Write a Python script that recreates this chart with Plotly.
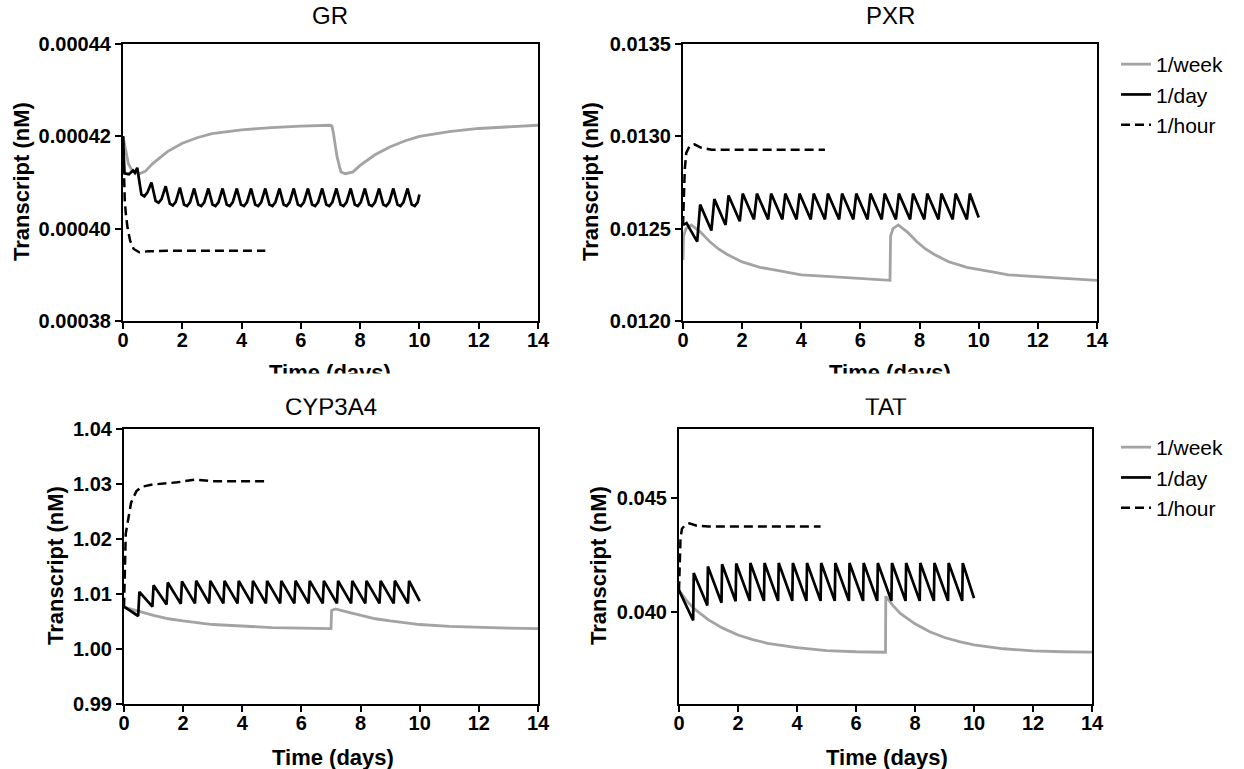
import plotly.graph_objects as go

# ---------------- data ----------------
# GR
gr_week_t = [0, 0.06, 0.18, 0.30, 0.55, 0.75, 1.0, 1.5, 2.0, 2.5, 3.0, 4.0, 5.0, 6.0, 7.0,
             7.05, 7.1, 7.22, 7.35, 7.5, 7.76, 8.0, 8.5, 9.0, 9.5, 10.0, 11.0, 12.0, 13.0, 14.0]
gr_week_y = [0.000420, 0.0004178, 0.0004141, 0.0004126, 0.0004119, 0.0004124, 0.0004141, 0.0004167,
             0.0004185, 0.0004197, 0.0004206, 0.0004214, 0.0004219, 0.0004222, 0.0004224,
             0.0004222, 0.0004206, 0.0004156, 0.0004123, 0.0004119, 0.0004123, 0.0004137, 0.0004160,
             0.0004177, 0.0004190, 0.0004200, 0.0004210, 0.0004217, 0.0004221, 0.0004224]
gr_day_t = [0, 0.05, 0.20, 0.34, 0.40,
            0.48, 0.62, 0.72, 0.82,
            0.96, 1.10, 1.20, 1.30,
            1.44, 1.58, 1.68, 1.78,
            1.92, 2.06, 2.16, 2.26,
            2.40, 2.54, 2.64, 2.74,
            2.88, 3.02, 3.12, 3.22,
            3.36, 3.50, 3.60, 3.70,
            3.84, 3.98, 4.08, 4.18,
            4.32, 4.46, 4.56, 4.66,
            4.80, 4.94, 5.04, 5.14,
            5.28, 5.42, 5.52, 5.62,
            5.76, 5.90, 6.00, 6.10,
            6.24, 6.38, 6.48, 6.58,
            6.72, 6.86, 6.96, 7.06,
            7.20, 7.34, 7.44, 7.54,
            7.68, 7.82, 7.92, 8.02,
            8.16, 8.30, 8.40, 8.50,
            8.64, 8.78, 8.88, 8.98,
            9.12, 9.26, 9.36, 9.46,
            9.60, 9.74, 9.84, 9.94, 10.00]
gr_day_y = [0.000420, 0.0004120, 0.0004118, 0.0004126, 0.0004121,
            0.0004132, 0.0004074, 0.0004070, 0.0004078,
            0.0004100, 0.0004060, 0.0004056, 0.0004064,
            0.0004092, 0.0004054, 0.0004050, 0.0004058,
            0.0004089, 0.0004052, 0.0004049, 0.0004057,
            0.0004087, 0.0004052, 0.0004049, 0.0004057,
            0.0004087, 0.0004052, 0.0004049, 0.0004057,
            0.0004087, 0.0004052, 0.0004049, 0.0004057,
            0.0004087, 0.0004052, 0.0004049, 0.0004057,
            0.0004087, 0.0004052, 0.0004049, 0.0004057,
            0.0004087, 0.0004052, 0.0004049, 0.0004057,
            0.0004087, 0.0004052, 0.0004049, 0.0004057,
            0.0004087, 0.0004052, 0.0004049, 0.0004057,
            0.0004087, 0.0004052, 0.0004049, 0.0004057,
            0.0004087, 0.0004052, 0.0004049, 0.0004057,
            0.0004087, 0.0004052, 0.0004049, 0.0004057,
            0.0004087, 0.0004052, 0.0004049, 0.0004057,
            0.0004087, 0.0004052, 0.0004049, 0.0004057,
            0.0004087, 0.0004052, 0.0004049, 0.0004057,
            0.0004087, 0.0004052, 0.0004049, 0.0004057,
            0.0004087, 0.0004052, 0.0004049, 0.0004057, 0.0004074]
gr_hour_t = [0, 0.03, 0.06, 0.10, 0.15, 0.24, 0.36, 0.55, 0.85, 1.5, 4.8]
gr_hour_y = [0.000420, 0.000412, 0.000406, 0.000403, 0.0004003, 0.0003974, 0.0003956,
             0.0003949, 0.0003951, 0.0003952, 0.0003952]

# PXR
pxr_week_t = [0, 0.02, 0.1, 0.28, 0.6, 0.9, 1.2, 1.5, 2.0, 2.6, 3.0, 3.5, 4.0, 5.0, 6.0, 7.0,
              7.02, 7.1, 7.28, 7.6, 7.9, 8.2, 8.5, 9.0, 9.6, 10.0, 10.5, 11.0, 12.0, 13.0, 14.0]
pxr_week_y = [0.01233, 0.01246, 0.01250, 0.01252, 0.01248, 0.01243, 0.01239, 0.01236, 0.01232, 0.01229,
              0.01228, 0.012265, 0.01225, 0.01224, 0.01223, 0.01222,
              0.01246, 0.01250, 0.01252, 0.01248, 0.01243, 0.01239, 0.01236, 0.01232, 0.01229,
              0.01228, 0.012265, 0.01225, 0.01224, 0.01223, 0.01222]
pxr_day_t = [0, 0.12, 0.30,
             0.48, 0.58, 0.96, 1.06, 1.44, 1.54, 1.92, 2.02, 2.40, 2.50, 2.88, 2.98,
             3.36, 3.46, 3.84, 3.94, 4.32, 4.42, 4.80, 4.90, 5.28, 5.38, 5.76, 5.86,
             6.24, 6.34, 6.72, 6.82, 7.20, 7.30, 7.68, 7.78, 8.16, 8.26, 8.64, 8.74,
             9.12, 9.22, 9.60, 9.70, 10.00]
pxr_day_y = [0.01252, 0.01253, 0.01248,
             0.01243, 0.01263, 0.01249, 0.01266, 0.01252, 0.01268, 0.01254, 0.01269,
             0.01255, 0.01269, 0.01255, 0.01269, 0.01255, 0.01269, 0.01255, 0.01269,
             0.01255, 0.01269, 0.01255, 0.01269, 0.01255, 0.01269, 0.01255, 0.01269,
             0.01255, 0.01269, 0.01255, 0.01269, 0.01255, 0.01269, 0.01255, 0.01269,
             0.01255, 0.01269, 0.01255, 0.01269, 0.01255, 0.01269, 0.01255, 0.01269,
             0.01256]
pxr_hour_t = [0, 0.03, 0.06, 0.11, 0.22, 0.39, 0.62, 0.96, 4.8]
pxr_hour_y = [0.01252, 0.01270, 0.01282, 0.01291, 0.012947, 0.012956, 0.012938, 0.012928, 0.012928]

# CYP3A4
cyp_week_t = [0, 0.5, 1, 1.5, 2, 3, 4, 5, 6, 7.0, 7.02, 7.15, 7.5, 8, 8.5, 9, 10, 11, 12, 13, 14]
cyp_week_y = [1.0076, 1.0068, 1.0061, 1.0055, 1.0051, 1.00445, 1.00412, 1.0039, 1.00378, 1.0037,
              1.0070, 1.00728, 1.0068, 1.0061, 1.0055, 1.0051, 1.00445, 1.00412, 1.0039, 1.00378, 1.0037]
cyp_day_t = [0, 0.24,
             0.48, 0.52, 0.96, 1.00, 1.44, 1.48, 1.92, 1.96, 2.40, 2.44, 2.88, 2.92,
             3.36, 3.40, 3.84, 3.88, 4.32, 4.36, 4.80, 4.84, 5.28, 5.32, 5.76, 5.80,
             6.24, 6.28, 6.72, 6.76, 7.20, 7.24, 7.68, 7.72, 8.16, 8.20, 8.64, 8.68,
             9.12, 9.16, 9.60, 9.64, 10.00]
cyp_day_y = [1.0077, 1.0068,
             1.0060, 1.0104, 1.0077, 1.0116, 1.0081, 1.0121, 1.0082, 1.0123,
             1.0083, 1.0124, 1.0083, 1.0124, 1.0083, 1.0124, 1.0083, 1.0124,
             1.0083, 1.0124, 1.0083, 1.0124, 1.0083, 1.0124, 1.0083, 1.0124,
             1.0083, 1.0124, 1.0083, 1.0124, 1.0083, 1.0124, 1.0083, 1.0124,
             1.0083, 1.0124, 1.0083, 1.0124, 1.0083, 1.0124, 1.0083, 1.0124,
             1.0087]
cyp_hour_t = [0, 0.03, 0.06, 0.12, 0.24, 0.42, 0.6, 0.97, 1.8, 2.4, 3.0, 4.8]
cyp_hour_y = [1.0077, 1.0150, 1.0210, 1.0229, 1.0266, 1.0287, 1.0295, 1.0299, 1.0303, 1.0308, 1.0305, 1.0305]

# TAT
tat_week_t = [0, 0.25, 0.5, 1, 1.5, 2, 2.5, 3, 4, 5, 6, 7.0,
              7.01, 7.25, 7.5, 8, 8.5, 9, 9.5, 10, 11, 12, 13, 14]
tat_week_y = [0.04096, 0.04052, 0.04017, 0.03967, 0.03930, 0.03901, 0.03881, 0.03865, 0.03846, 0.03833,
              0.03828, 0.03826,
              0.04070, 0.04030, 0.03995, 0.03950, 0.03915, 0.03890, 0.03872, 0.03858, 0.03841,
              0.03832, 0.03828, 0.03826]
tat_day_t = [0, 0.24,
             0.48, 0.50, 0.96, 0.98, 1.44, 1.46, 1.92, 1.94, 2.40, 2.42, 2.88, 2.90,
             3.36, 3.38, 3.84, 3.86, 4.32, 4.34, 4.80, 4.82, 5.28, 5.30, 5.76, 5.78,
             6.24, 6.26, 6.72, 6.74, 7.20, 7.22, 7.68, 7.70, 8.16, 8.18, 8.64, 8.66,
             9.12, 9.14, 9.60, 9.62, 10.00]
tat_day_y = [0.04096, 0.04030,
             0.03965, 0.04172, 0.04030, 0.04200, 0.04042, 0.04210, 0.04048, 0.04213,
             0.04050, 0.04215, 0.04050, 0.04215, 0.04050, 0.04215, 0.04050, 0.04215,
             0.04050, 0.04215, 0.04050, 0.04215, 0.04050, 0.04215, 0.04050, 0.04215,
             0.04050, 0.04215, 0.04050, 0.04215, 0.04050, 0.04215, 0.04050, 0.04215,
             0.04050, 0.04215, 0.04050, 0.04215, 0.04050, 0.04215, 0.04050, 0.04215,
             0.04062]
tat_hour_t = [0, 0.02, 0.05, 0.10, 0.20, 0.35, 0.60, 1.0, 4.8]
tat_hour_y = [0.04096, 0.0423, 0.0432, 0.04365, 0.04380, 0.04388, 0.04378, 0.04375, 0.04375]

series_names = ["1/week", "1/day", "1/hour"]
panel_titles = ["GR", "PXR", "CYP3A4", "TAT"]
x_ticks = [0, 2, 4, 6, 8, 10, 12, 14]
gr_ticks = [0.00038, 0.00040, 0.00042, 0.00044]
gr_ticktext = ["0.00038", "0.00040", "0.00042", "0.00044"]
pxr_ticks = [0.0120, 0.0125, 0.0130, 0.0135]
pxr_ticktext = ["0.0120", "0.0125", "0.0130", "0.0135"]
cyp_ticks = [0.99, 1.00, 1.01, 1.02, 1.03, 1.04]
cyp_ticktext = ["0.99", "1.00", "1.01", "1.02", "1.03", "1.04"]
tat_ticks = [0.040, 0.045]
tat_ticktext = ["0.040", "0.045"]

# ---------------- figure ----------------
W, H = 1244, 769
FONT = "Liberation Sans, Arial, sans-serif"
GRAY = "#a3a3a3"

def px(x):
    return x / W

def py(y):
    return 1 - y / H

fig = go.Figure()

panels = [
    ((gr_week_t, gr_week_y), (gr_day_t, gr_day_y), (gr_hour_t, gr_hour_y), "", None),
    ((pxr_week_t, pxr_week_y), (pxr_day_t, pxr_day_y), (pxr_hour_t, pxr_hour_y), "2", "legend"),
    ((cyp_week_t, cyp_week_y), (cyp_day_t, cyp_day_y), (cyp_hour_t, cyp_hour_y), "3", None),
    ((tat_week_t, tat_week_y), (tat_day_t, tat_day_y), (tat_hour_t, tat_hour_y), "4", "legend2"),
]

for i, (wk, dy, hr, sfx, leg) in enumerate(panels):
    styles = [
        dict(color=GRAY, width=2.8),
        dict(color="black", width=2.7),
        dict(color="black", width=2.5, dash="9px,5px"),
    ]
    for j, (data, st) in enumerate(zip([wk, dy, hr], styles)):
        tr = go.Scatter(x=data[0], y=data[1], mode="lines", line=st,
                        name=series_names[j], xaxis="x" + sfx, yaxis="y" + sfx,
                        showlegend=leg is not None, hoverinfo="skip")
        if leg is not None:
            tr.legend = leg
        fig.add_trace(tr)

# plot area boxes in pixels: (left, right, top, bottom)
boxes = [(123, 538, 44, 321), (683, 1097, 44, 321), (124, 538, 429, 704), (679, 1092, 429, 704)]
yranges = [[0.00038, 0.00044], [0.0120, 0.0135], [0.99, 1.04], [0.036, 0.048]]
yticks = [(gr_ticks, gr_ticktext), (pxr_ticks, pxr_ticktext), (cyp_ticks, cyp_ticktext), (tat_ticks, tat_ticktext)]

axis_common = dict(showline=True, linecolor="black", linewidth=2.2, mirror=True,
                   ticks="outside", ticklen=6, tickwidth=2.2, tickcolor="black",
                   showgrid=False, zeroline=False, automargin=False,
                   tickfont=dict(family=FONT, size=20, color="black", weight="bold"))

layout = {}
for k, (l, r, t, b) in enumerate(boxes):
    sfx = "" if k == 0 else str(k + 1)
    layout["xaxis" + sfx] = dict(axis_common, domain=[px(l), px(r)], range=[0, 14],
                                tickvals=x_ticks, anchor="y" + sfx, ticklabelstandoff=-6)
    layout["yaxis" + sfx] = dict(axis_common, domain=[py(b), py(t)], range=yranges[k],
                                tickvals=yticks[k][0], ticktext=yticks[k][1], anchor="x" + sfx)

fig.update_layout(**layout)

annotations = []
title_pos = [(330, 15), (890, 15), (331, 406), (886, 406)]
for txt, (x, y) in zip(panel_titles, title_pos):
    annotations.append(dict(text=txt, x=px(x), y=py(y), xref="paper", yref="paper",
                            showarrow=False, xanchor="center", yanchor="middle",
                            font=dict(family=FONT, size=24, color="black")))
ytitle_pos = [(22, 182), (591, 182), (55, 566), (598, 566)]
for (x, y) in ytitle_pos:
    annotations.append(dict(text="Transcript (nM)", x=px(x), y=py(y), xref="paper", yref="paper",
                            showarrow=False, textangle=-90, xanchor="center", yanchor="middle",
                            font=dict(family=FONT, size=22, color="black", weight="bold")))
xtitle_pos = [(330, 372), (890, 372), (333, 757), (887, 757)]
for (x, y) in xtitle_pos:
    annotations.append(dict(text="Time (days)", x=px(x), y=py(y), xref="paper", yref="paper",
                            showarrow=False, xanchor="center", yanchor="middle",
                            font=dict(family=FONT, size=22, color="black", weight="bold")))
# in the original figure the top-row x titles are cut off by the lower row
for x in (330, 890):
    annotations.append(dict(text=" ", x=px(x), y=py(373), xref="paper", yref="paper",
                            showarrow=False, xanchor="center", yanchor="top",
                            width=220, height=24, bgcolor="white", borderpad=0,
                            font=dict(size=4)))

legend_common = dict(xanchor="left", yanchor="top", bgcolor="rgba(0,0,0,0)",
                     font=dict(family=FONT, size=21, color="black"),
                     itemwidth=30, tracegroupgap=0, traceorder="normal")

fig.update_layout(
    width=W, height=H, autosize=False,
    margin=dict(l=0, r=0, t=0, b=0, pad=0),
    paper_bgcolor="white", plot_bgcolor="white",
    annotations=annotations,
    legend=dict(legend_common, x=px(1116), y=py(44)),
    legend2=dict(legend_common, x=px(1116), y=py(427)),
    showlegend=True,
)

fig.write_html("out.html", config={"displayModeBar": False},
               post_script="document.body.style.margin='0';")
